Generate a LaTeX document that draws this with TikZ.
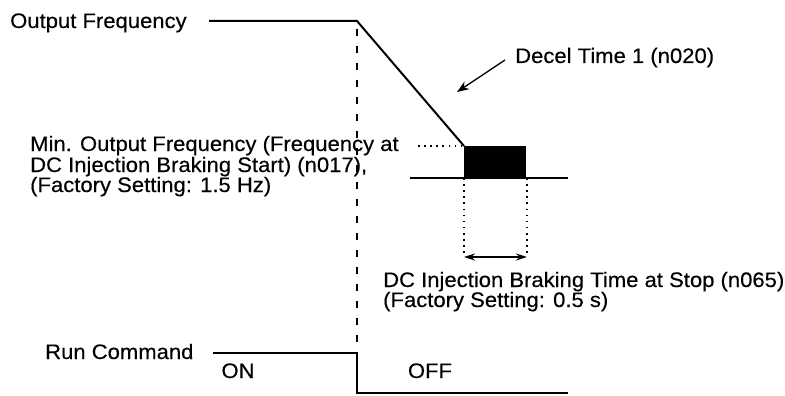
\documentclass[tikz,border=0pt]{standalone}
\usepackage{fontspec}
\setmainfont[FakeStretch=1.05,FakeBold=0.3]{Liberation Sans}
\usetikzlibrary{arrows.meta,positioning}

\begin{document}
\begin{tikzpicture}[x=1pt,y=-1pt,
  every node/.style={font=\fontsize{21}{20.5}\selectfont, inner sep=0pt},
  lbl/.style={anchor=base west},
  state/.style={anchor=base},
  sig/.style={line width=2pt},
  guide/.style={line width=2pt, dash pattern=on 7pt off 10pt},
  dots/.style={line width=1.6pt, dash pattern=on 1.6pt off 4.5pt},
  pointer/.style={line width=1.3pt, -{Stealth[length=12pt,width=9pt]}},
  span/.style={line width=1.4pt, {Stealth[length=11pt,width=7pt]}-{Stealth[length=11pt,width=7pt]}}]
\useasboundingbox (0,0) rectangle (785,396);
% labels
\node[lbl] (outf) at (10,28) {Output Frequency};
\node[lbl] (decel) at (515,63) {Decel Time 1 (n020)};
\node[lbl] (minf1) at (30,151) {Min. Output Frequency (Frequency at};
\node[lbl] (minf2) at (30,172) {DC Injection Braking Start) (n017),};
\node[lbl] (minf3) at (30,192) {(Factory Setting: 1.5 Hz)};
\node[lbl] (dcb1) at (383,287) {DC Injection Braking Time at Stop (n065)};
\node[lbl] (dcb2) at (383,307) {(Factory Setting: 0.5 s)};
\node[lbl] (run) at (45,359) {Run Command};
\node[state] (on) at (238,378) {ON};
\node[state] (off) at (430,378) {OFF};
% output frequency
\coordinate (f0) at (209,21);
\coordinate (f1) at (357,21);
\coordinate (f2) at (464,146);
\coordinate (f3) at (526,178);
\coordinate (b0) at (410,178);
\coordinate (b1) at (568,178);
\coordinate (m0) at (418,146);
\fill (f2) rectangle (f3);
\draw[sig] (f0) -- (f1) -- (f2);
\draw[sig] (b0) -- (b1);
\draw[dots] (m0) -- (f2);
% braking time
\coordinate (t0) at (464,178);
\coordinate (t1) at (527,178);
\coordinate (t2) at (464,257);
\coordinate (t3) at (527,257);
\draw[dots] (t0) -- (t2);
\draw[dots] (t1) -- (t3);
\draw[span] (t2) -- (t3);
% decel pointer
\coordinate (d0) at (505,60);
\coordinate (d1) at (457,92);
\draw[pointer] (d0) -- (d1);
% run command
\coordinate (r0) at (213,353);
\coordinate (r1) at (357,353);
\coordinate (r2) at (357,393);
\coordinate (r3) at (568,393);
\coordinate (g0) at (357,29);
\draw[guide] (g0) -- (r1);
\draw[sig] (r0) -- (r1) -- (r2) -- (r3);
\end{tikzpicture}
\end{document}
